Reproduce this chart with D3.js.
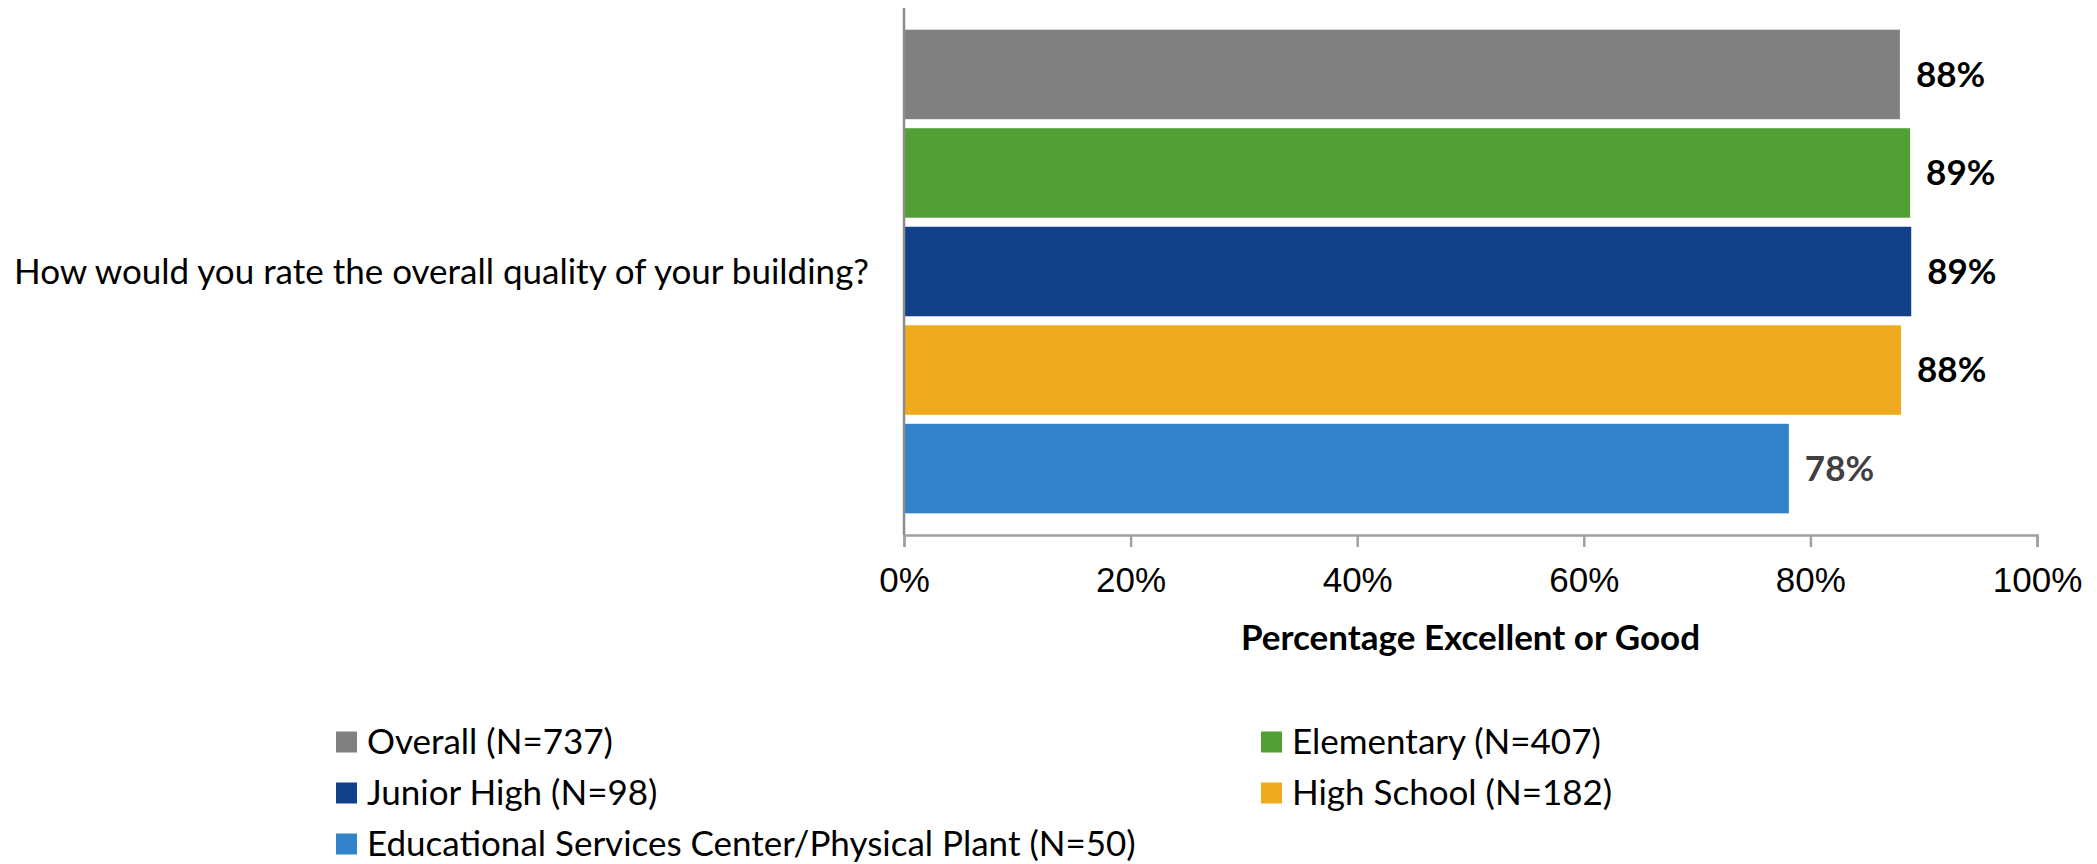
<!DOCTYPE html>
<html>
<head>
<meta charset="utf-8">
<script src="https://cdn.jsdelivr.net/npm/d3@7"></script>
<style>
  body { margin: 0; background: #fff; }
  svg { display: block; font-family: Lato, "Open Sans", sans-serif; }
</style>
</head>
<body>
<svg class="chart"></svg>
<script>
'use strict';

var question = "How would you rate the overall quality of your building?";
var series = ["Overall (N=737)", "Elementary (N=407)", "Junior High (N=98)",
              "High School (N=182)", "Educational Services Center/Physical Plant (N=50)"];
var values = [87.9, 88.8, 88.9, 88.0, 78.1];
var valueLabels = ["88%", "89%", "89%", "88%", "78%"];
var colors = ["#808080", "#52a035", "#124189", "#f0aa1d", "#3282c9"];
var labelColors = ["#000", "#000", "#000", "#000", "#404040"];
var tickValues = [0, 20, 40, 60, 80, 100];
var axisTitle = "Percentage Excellent or Good";

var W = 2097, H = 864;
var plot = { left: 904, right: 2037, top: 8, bottom: 535 };
var fs = 35;

var svg = d3.select(".chart").attr("width", W).attr("height", H);

var x = d3.scaleLinear().domain([0, 100]).range([plot.left, plot.right]);
var y = d3.scaleBand().domain(series)
    .range([plot.top, plot.bottom])
    .paddingInner(0.0914).paddingOuter(0.22);

// bars
svg.selectAll("rect.bar").data(series).enter().append("rect")
    .attr("class", "bar")
    .attr("x", x(0))
    .attr("y", function(d) { return y(d); })
    .attr("width", function(d, i) { return x(values[i]) - x(0); })
    .attr("height", y.bandwidth())
    .attr("fill", function(d, i) { return colors[i]; });

// value labels
svg.selectAll("text.val").data(series).enter().append("text")
    .attr("class", "val")
    .attr("x", function(d, i) { return x(values[i]) + 16; })
    .attr("y", function(d) { return y(d) + y.bandwidth() / 2; })
    .attr("dy", "0.35em")
    .attr("font-size", fs)
    .attr("font-weight", "bold")
    .attr("fill", function(d, i) { return labelColors[i]; })
    .text(function(d, i) { return valueLabels[i]; });

// x axis
var xAxis = d3.axisBottom(x).tickValues(tickValues)
    .tickFormat(function(d) { return d + "%"; })
    .tickSize(12).tickPadding(20);
var gx = svg.append("g").attr("transform", "translate(0," + plot.bottom + ")").call(xAxis);
gx.select(".domain").attr("stroke", "#a0a0a0").attr("stroke-width", 2.5);
gx.selectAll(".tick line").attr("stroke", "#a0a0a0").attr("stroke-width", 2.5);
gx.selectAll(".tick text").attr("font-size", fs).attr("font-family", null).attr("fill", "#000");

// y axis line
svg.append("line")
    .attr("x1", plot.left).attr("x2", plot.left)
    .attr("y1", plot.top).attr("y2", plot.bottom)
    .attr("stroke", "#8c8c8c").attr("stroke-width", 2.5);

// category label
svg.append("text")
    .attr("x", plot.left - 35)
    .attr("y", (plot.top + plot.bottom) / 2)
    .attr("dy", "0.35em")
    .attr("text-anchor", "end")
    .attr("font-size", fs)
    .text(question);

// axis title
svg.append("text")
    .attr("x", (plot.left + plot.right) / 2)
    .attr("y", 638)
    .attr("dy", "0.35em")
    .attr("text-anchor", "middle")
    .attr("font-size", fs)
    .attr("font-weight", "bold")
    .text(axisTitle);

// legend, two columns
var legCols = [336, 1261], legRow0 = 742, legRowStep = 51, sw = 21;
var leg = svg.selectAll("g.leg").data(series).enter().append("g")
    .attr("class", "leg")
    .attr("transform", function(d, i) {
        return "translate(" + legCols[i % 2] + "," + (legRow0 + Math.floor(i / 2) * legRowStep) + ")";
    });
leg.append("rect")
    .attr("x", 0).attr("y", -sw / 2)
    .attr("width", sw).attr("height", sw)
    .attr("fill", function(d, i) { return colors[i]; });
leg.append("text")
    .attr("x", 31)
    .attr("dy", "0.35em")
    .attr("font-size", fs)
    .text(function(d) { return d; });
</script>
</body>
</html>
